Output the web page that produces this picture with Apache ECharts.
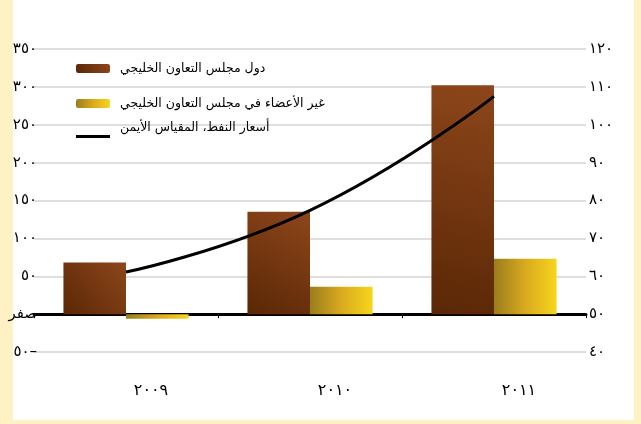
<!DOCTYPE html>
<html>
<head>
<meta charset="utf-8">
<script src="https://cdn.jsdelivr.net/npm/echarts@6/dist/echarts.min.js"></script>
<style>
  html, body { margin: 0; padding: 0; background: #FEF1C3; }
  #panel { position: absolute; left: 13px; top: 0; width: 621px; height: 420px; background: #ffffff; }
  #chart { position: absolute; left: 0; top: 0; width: 641px; height: 424px; }
</style>
</head>
<body>
<div id="panel"></div>
<div id="chart"></div>
<script>
// Years on the category axis
const years = ['٢٠٠٩', '٢٠١٠', '٢٠١١'];
// Series names
const nameGcc = 'دول مجلس التعاون الخليجي';
const nameNonGcc = 'غير الأعضاء في مجلس التعاون الخليجي';
const nameOil = 'أسعار النفط، المقياس الأيمن';
// Values (left axis for bars, right axis for oil price)
const gccValues = [68, 135, 302];
const nonGccValues = [-6, 36, 73];
const oilPrices = [61.1, 77.4, 107.5];

const arabicDigits = ['٠','١','٢','٣','٤','٥','٦','٧','٨','٩'];
function toArabic(n) {
  return String(Math.abs(n)).replace(/[0-9]/g, d => arabicDigits[+d]);
}
function leftLabel(v) {
  if (v === 0) return 'صفر';
  if (v < 0) return toArabic(v) + '–';
  return toArabic(v);
}

const font = "'DejaVu Sans', sans-serif";

const brown = new echarts.graphic.LinearGradient(0, 1, 1, 0, [
  { offset: 0, color: '#5a2706' },
  { offset: 1, color: '#8d461b' }
]);
const gold = new echarts.graphic.LinearGradient(0, 0, 1, 0, [
  { offset: 0, color: '#9a7d1c' },
  { offset: 0.5, color: '#d9aa1f' },
  { offset: 1, color: '#f7d51c' }
]);

// legend key for the price line: a bar sitting at the bottom of the key box
const lineKey = 'path://M0,0 L34,0 M0,18 L34,18 L34,21 L0,21 Z';

const chart = echarts.init(document.getElementById('chart'), null, { renderer: 'canvas' });
chart.setOption({
  backgroundColor: 'transparent',
  animation: false,
  textStyle: { fontFamily: font },
  grid: { left: 34, right: 55, top: 49, bottom: 72 },
  legend: [
    {
      orient: 'vertical', left: 76, top: 62, padding: 0,
      itemWidth: 34, itemHeight: 9, itemGap: 22,
      textStyle: { fontSize: 12.5, color: '#000', fontFamily: font, padding: [0, 0, 0, 5] },
      data: [nameGcc, nameNonGcc]
    },
    {
      orient: 'vertical', left: 76, top: 117, padding: 0,
      itemWidth: 34, itemHeight: 22,
      itemStyle: { color: '#000', borderWidth: 0 },
      textStyle: { fontSize: 12.5, color: '#000', fontFamily: font, padding: [0, 0, 0, 5] },
      data: [{ name: nameOil, icon: lineKey }]
    }
  ],
  xAxis: [
    {
      type: 'category', data: years, position: 'bottom',
      axisLine: { show: false, onZero: false },
      axisTick: { show: false },
      axisLabel: { margin: 31, fontSize: 16, color: '#000', padding: [0, 0, 0, 50] }
    },
    {
      type: 'category', data: years, position: 'bottom',
      axisLine: { show: true, onZero: true, lineStyle: { color: '#000', width: 3 } },
      axisTick: { show: true, length: 4, lineStyle: { color: '#000', width: 1 } },
      axisLabel: { show: false }
    }
  ],
  yAxis: [
    {
      type: 'value', min: -50, max: 350, interval: 50,
      axisLine: { show: false }, axisTick: { show: false },
      axisLabel: { margin: -3, fontSize: 15, color: '#000', formatter: leftLabel },
      splitLine: { show: true, lineStyle: { color: '#dedede', width: 2 } }
    },
    {
      type: 'value', min: 40, max: 120, interval: 10, position: 'right',
      axisLine: { show: false }, axisTick: { show: false },
      axisLabel: { margin: 3, fontSize: 15, color: '#000', formatter: v => toArabic(v) },
      splitLine: { show: false }
    }
  ],
  series: [
    {
      name: nameGcc, type: 'bar', xAxisIndex: 0, yAxisIndex: 0,
      data: gccValues, barGap: 0, barCategoryGap: '32%',
      itemStyle: { color: brown }
    },
    {
      name: nameNonGcc, type: 'bar', xAxisIndex: 0, yAxisIndex: 0,
      data: nonGccValues, barGap: 0, barCategoryGap: '32%',
      itemStyle: { color: gold }
    },
    {
      name: nameOil, type: 'line', xAxisIndex: 0, yAxisIndex: 1,
      data: oilPrices, smooth: true, symbol: 'none', z: 5,
      lineStyle: { color: '#000', width: 3 },
      itemStyle: { color: '#000' }
    }
  ]
});
</script>
</body>
</html>
